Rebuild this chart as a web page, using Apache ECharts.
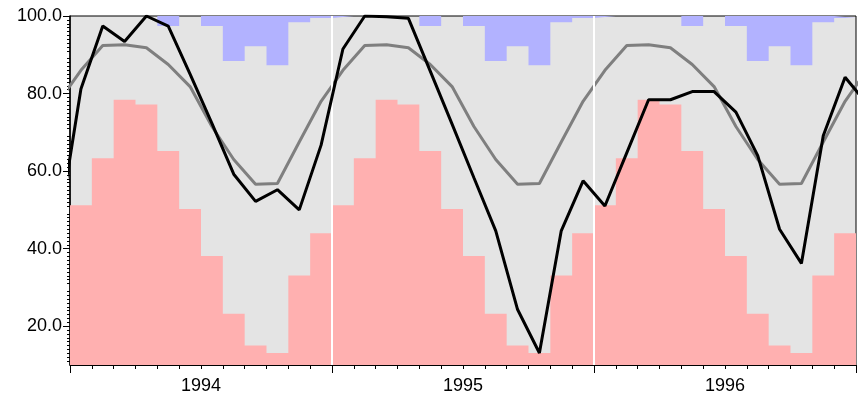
<!DOCTYPE html>
<html>
<head>
<meta charset="utf-8">
<script src="https://cdn.jsdelivr.net/npm/echarts@6/dist/echarts.min.js"></script>
<style>
html,body{margin:0;padding:0;background:#fff;}
#chart{width:859px;height:396px;}
</style>
</head>
<body>
<div id="chart"></div>
<script>
// Year labels (one per 12 months)
const years = ['1994', '1995', '1996'];

// Y axis tick labels
const yTickValues = [20, 40, 60, 80, 100];

// Lower band (pink), monthly, Jan 1994 .. Dec 1996
const lowBand = [
  51.2, 63.3, 78.4, 77.2, 65.2, 50.2, 38.1, 23.2, 15.0, 13.1, 33.1, 44.0,
  51.2, 63.3, 78.4, 77.2, 65.2, 50.2, 38.1, 23.2, 15.0, 13.1, 33.1, 44.0,
  51.2, 63.3, 78.4, 77.2, 65.2, 50.2, 38.1, 23.2, 15.0, 13.1, 33.1, 44.0
];

// Upper band (blue, hanging from the top), monthly
const highBand = [
  100, 100, 100, 100, 97.4, 100, 97.4, 88.4, 92.2, 87.3, 98.4, 99.5,
  100, 100, 100, 100, 97.4, 100, 97.4, 88.4, 92.2, 87.3, 98.4, 99.5,
  100, 100, 100, 100, 97.4, 100, 97.4, 88.4, 92.2, 87.3, 98.4, 99.5
];

// Climatological mean (grey line), monthly; plus Dec 1993 and Jan 1997
const climBefore = 78.0;
const climatology = [
  86.0, 92.4, 92.6, 91.8, 87.5, 81.8, 71.5, 63.0, 56.6, 56.8, 67.5, 78.0,
  86.0, 92.4, 92.6, 91.8, 87.5, 81.8, 71.5, 63.0, 56.6, 56.8, 67.5, 78.0,
  86.0, 92.4, 92.6, 91.8, 87.5, 81.8, 71.5, 63.0, 56.6, 56.8, 67.5, 78.0
];
const climAfter = 86.0;

// Observed values (black line), monthly; plus Dec 1993 and Jan 1997
const obsBefore = 45.8;
const observed = [
  81.2, 97.4, 93.4, 100.0, 97.4, 85.0, 72.3, 59.2, 52.2, 55.2, 50.0, 66.7,
  91.5, 100.0, 99.8, 99.4, 85.8, 72.1, 58.3, 44.6, 24.3, 13.1, 44.6, 57.5,
  51.0, 64.7, 78.4, 78.4, 80.5, 80.5, 75.2, 64.0, 45.0, 36.2, 69.1, 84.2
];
const obsAfter = 77.4;

const nMonths = observed.length;

function stepData(arr) {
  const d = arr.map((v, i) => [i, v]);
  d.push([arr.length, arr[arr.length - 1]]);
  return d;
}
function centeredData(before, arr, after) {
  const d = [[-0.5, before]];
  arr.forEach((v, i) => d.push([i + 0.5, v]));
  d.push([arr.length + 0.5, after]);
  return d;
}

const chart = echarts.init(document.getElementById('chart'), null, {renderer: 'canvas'});
const font = 'Liberation Sans, Arial, sans-serif';

chart.setOption({
  animation: false,
  backgroundColor: '#ffffff',
  grid: {
    left: 70, right: 3, top: 16, bottom: 31,
    show: true,
    backgroundColor: '#e4e4e4',
    borderColor: '#000000',
    borderWidth: 1
  },
  xAxis: [
    {
      type: 'value',
      min: 0, max: nMonths, interval: 12,
      axisLine: {show: true, onZero: false, lineStyle: {color: '#000', width: 1}},
      axisTick: {show: true, length: 8, lineStyle: {color: '#000', width: 1}},
      minorTick: {show: true, splitNumber: 12, length: 4, lineStyle: {color: '#000', width: 1}},
      axisLabel: {show: false},
      splitLine: {show: false},
      minorSplitLine: {show: false}
    },
    {
      type: 'category',
      data: years,
      position: 'bottom',
      axisLine: {show: false},
      axisTick: {show: false},
      axisLabel: {show: true, color: '#000', fontSize: 18, fontFamily: font, margin: 12},
      splitLine: {show: false}
    }
  ],
  yAxis: {
    type: 'value',
    min: 10, max: 100, interval: 10,
    axisLine: {show: true, onZero: false, lineStyle: {color: '#000', width: 1.5}},
    axisTick: {show: true, length: 7, customValues: yTickValues, lineStyle: {color: '#000', width: 1}},
    minorTick: {show: true, splitNumber: 10, length: 3, lineStyle: {color: '#000', width: 1}},
    axisLabel: {
      show: true, color: '#000', fontSize: 18, fontFamily: font, margin: 8,
      customValues: yTickValues,
      formatter: v => Number(v).toFixed(1)
    },
    splitLine: {show: false},
    minorSplitLine: {show: false}
  },
  series: [
    {
      name: 'low',
      type: 'line',
      step: 'end',
      data: stepData(lowBand),
      symbol: 'none',
      lineStyle: {width: 0},
      areaStyle: {color: '#ffb0b0', opacity: 1, origin: 'start'},
      z: 1,
      silent: true
    },
    {
      name: 'high',
      type: 'line',
      step: 'end',
      data: stepData(highBand),
      symbol: 'none',
      lineStyle: {width: 0},
      areaStyle: {color: '#b2b2ff', opacity: 1, origin: 'end'},
      z: 2,
      silent: true,
      markLine: {
        silent: true,
        symbol: ['none', 'none'],
        label: {show: false},
        lineStyle: {color: '#ffffff', width: 2, type: 'solid'},
        data: [{xAxis: 12}, {xAxis: 24}]
      }
    },
    {
      name: 'climatology',
      type: 'line',
      data: centeredData(climBefore, climatology, climAfter),
      symbol: 'none',
      clip: true,
      lineStyle: {color: '#7f7f7f', width: 3},
      z: 4
    },
    {
      name: 'observed',
      type: 'line',
      data: centeredData(obsBefore, observed, obsAfter),
      symbol: 'none',
      clip: true,
      lineStyle: {color: '#000000', width: 3},
      z: 5
    }
  ]
});
</script>
</body>
</html>
